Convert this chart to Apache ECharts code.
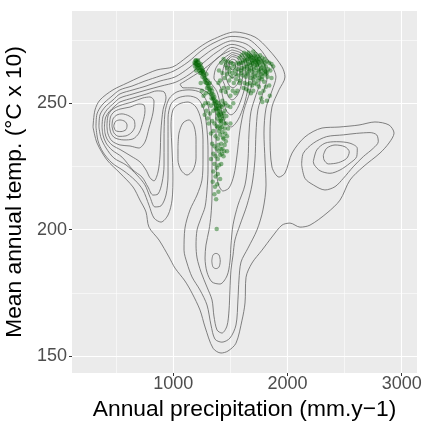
<!DOCTYPE html>
<html><head><meta charset="utf-8">
<script src="https://cdn.jsdelivr.net/npm/echarts@6/dist/echarts.min.js"></script>
<style>html,body{margin:0;padding:0;background:#fff}#c{width:424px;height:421px}</style>
</head><body><div id="c"></div>
<script>
const xTicks=[1000,2000,3000];
const xMinor=[500,1500,2500];
const yTicks=[150,200,250];
const yMinor=[175,225,275];

const contourOuter=[[297,240.6],[314,247.3],[358,251.3],[472,255.3],[595,258.0],[708,260.4],[857,263.2],[997,264.4],[1120,268.3],[1234,272.3],[1339,275.1],[1540,278.2],[1715,276.2],[1838,271.1],[1952,264.4],[1978,260.4],[1926,255.3],[1864,248.5],[1847,238.2],[1864,224.8],[1926,220.8],[1978,222.4],[2040,230.3],[2153,236.7],[2302,240.2],[2451,240.6],[2626,241.4],[2766,242.6],[2889,241.4],[2933,238.2],[2889,234.3],[2810,230.3],[2661,224.8],[2547,219.6],[2460,211.7],[2346,206.6],[2197,201.8],[2110,201.0],[2022,202.6],[1952,201.8],[1864,197.1],[1777,191.9],[1689,186.8],[1637,181.2],[1628,171.0],[1602,164.2],[1549,155.1],[1479,152.0],[1418,151.2],[1348,153.1],[1278,161.5],[1234,168.2],[1164,174.9],[1102,179.7],[1015,184.8],[962,189.2],[875,195.9],[787,201.0],[761,207.0],[708,211.7],[647,216.9],[533,222.4],[419,227.6],[332,234.3],[297,240.6]];
const contour2=[[323,240.6],[332,245.8],[376,249.3],[454,252.5],[533,255.3],[638,256.8],[752,258.8],[884,260.8],[1006,262.8],[1129,266.3],[1243,270.7],[1356,273.9],[1514,276.45],[1654,275.45],[1759,271.5],[1829,267.1],[1873,264.0],[1899,260.4],[1864,254.9],[1812,248.1],[1794,238.2],[1803,227.6],[1812,217.7],[1785,207.8],[1733,199.9],[1654,192.7],[1593,187.2],[1575,180.1],[1566,172.2],[1549,162.3],[1496,157.1],[1426,155.5],[1365,156.7],[1330,162.3],[1295,170.2],[1234,176.1],[1164,181.3],[1120,186.8],[1094,191.9],[1102,200.6],[1146,207.8],[1208,213.7],[1251,219.6],[1260,227.6],[1260,235.5],[1243,243.4],[1199,248.5],[1129,250.5],[1050,249.7],[997,247.4],[980,241.4],[989,231.5],[997,221.6],[989,211.7],[954,205.8],[892,203.0],[831,204.6],[787,209.7],[734,215.7],[664,219.6],[568,223.2],[463,226.4],[384,230.7],[341,235.1],[323,240.6]];
const contour3=[[349,240.6],[358,245.4],[402,248.5],[472,251.3],[533,253.7],[647,255.3],[761,256.8],[884,258.8],[1015,260.4],[1137,264.0],[1251,268.3],[1365,271.9],[1514,274.7],[1636,273.5],[1724,270.3],[1777,267.1],[1812,263.6],[1820,259.6],[1785,254.1],[1741,247.4],[1724,238.2],[1715,227.6],[1689,217.7],[1645,209.7],[1584,201.9],[1540,195.9],[1523,189.9],[1505,184.0],[1496,176.1],[1488,168.2],[1470,161.9],[1426,159.1],[1383,160.3],[1356,165.8],[1339,172.2],[1295,177.3],[1243,183.2],[1208,188.8],[1199,193.9],[1208,199.9],[1243,204.6],[1278,209.0],[1295,215.7],[1304,223.6],[1304,231.5],[1295,239.4],[1269,247.4],[1216,251.7],[1129,252.9],[1041,252.1],[980,249.7],[954,244.2],[954,233.5],[954,221.6],[936,213.7],[892,209.4],[839,209.0],[796,212.9],[752,217.7],[682,221.6],[586,225.6],[481,228.3],[411,232.3],[367,236.3],[349,240.6]];
const contour4=[[376,240.6],[384,244.6],[419,247.4],[481,250.1],[533,252.1],[647,253.7],[769,255.3],[892,256.8],[1024,258.4],[1146,261.6],[1260,265.9],[1383,270.3],[1514,273.3],[1619,271.9],[1689,269.1],[1733,266.3],[1759,262.4],[1759,258.4],[1724,253.3],[1680,246.6],[1663,238.2],[1654,227.6],[1628,217.7],[1566,209.7],[1523,201.9],[1505,193.9],[1496,187.2],[1470,181.7],[1409,178.5],[1339,179.3],[1295,183.2],[1278,188.8],[1286,193.9],[1313,199.9],[1330,205.8],[1339,213.7],[1339,223.6],[1339,231.5],[1330,240.2],[1304,249.3],[1243,254.1],[1137,255.3],[1032,254.5],[962,251.7],[927,246.2],[919,235.5],[919,225.6],[901,218.5],[866,214.1],[822,213.7],[778,216.9],[726,220.8],[647,223.6],[551,228.7],[463,231.5],[411,234.3],[384,237.5],[376,240.6]];
const contour5Left=[[397,240.6],[406,244.2],[437,246.6],[489,248.9],[533,250.5],[647,252.1],[769,253.7],[857,254.9],[919,254.5],[936,252.1],[910,247.4],[892,239.4],[884,229.5],[866,222.8],[831,219.3],[796,220.5],[761,223.6],[708,226.8],[630,229.1],[542,231.5],[463,233.5],[419,235.9],[402,238.2],[397,240.6]];
const contour5Top=[[1059,257.6],[1146,260.0],[1269,263.6],[1400,268.3],[1514,272.1],[1601,270.7],[1654,268.3],[1689,265.2],[1698,260.4],[1671,254.5],[1619,247.4],[1584,239.4],[1558,229.5],[1531,221.6],[1488,216.5],[1435,215.3],[1391,218.5],[1374,227.6],[1374,239.4],[1365,248.1],[1330,252.9],[1260,255.3],[1164,256.1],[1085,256.1],[1059,257.6]];
const contour6Top=[[1514,271.1],[1593,269.9],[1636,267.1],[1663,262.4],[1654,256.1],[1619,249.3],[1566,243.4],[1505,240.6],[1453,242.6],[1418,248.1],[1383,254.5],[1321,258.4],[1278,260.8],[1321,264.8],[1409,268.7],[1514,271.1]];
const contour7Top=[[1514,270.1],[1584,269.1],[1619,266.7],[1636,262.4],[1628,256.8],[1593,251.3],[1549,247.0],[1505,245.4],[1461,247.4],[1435,252.1],[1409,256.8],[1356,260.0],[1374,264.0],[1435,267.5],[1514,270.1]];
const contour8Top=[[1514,269.3],[1575,268.3],[1601,265.9],[1610,262.0],[1593,256.8],[1558,252.9],[1514,251.3],[1479,252.9],[1453,256.8],[1426,260.4],[1444,264.8],[1470,267.5],[1514,269.3]];
const contour9Top=[[1514,268.5],[1558,267.9],[1584,265.6],[1584,261.6],[1566,258.0],[1523,256.1],[1488,257.2],[1461,260.8],[1461,264.4],[1479,267.1],[1514,268.5]];
const contour10Top=[[1514,267.5],[1549,266.9],[1566,264.8],[1558,262.0],[1523,260.0],[1488,261.2],[1479,264.0],[1488,266.3],[1514,267.5]];
const contour11Top=[[1514,266.5],[1540,265.9],[1545,264.4],[1523,263.2],[1496,264.0],[1492,265.6],[1514,266.5]];
const contour6Left=[[419,241.0],[428,245.0],[463,247.4],[533,249.1],[638,250.5],[734,252.1],[796,252.5],[831,250.9],[822,246.2],[787,240.2],[752,234.7],[699,232.3],[621,233.1],[533,233.5],[463,235.1],[428,237.9],[419,241.0]];
const contour7Left=[[441,241.0],[450,244.6],[481,246.6],[533,247.7],[621,248.5],[699,249.7],[743,249.3],[752,247.0],[734,242.6],[699,238.2],[647,235.9],[568,235.5],[489,236.3],[454,238.2],[441,241.0]];
const contour8Left=[[463,241.0],[472,243.8],[507,245.4],[551,245.8],[612,245.0],[656,243.4],[664,241.0],[638,238.6],[586,237.1],[524,236.9],[481,238.2],[463,241.0]];
const contour9Left=[[478,241.0],[494,242.8],[533,243.4],[577,242.8],[595,241.4],[586,239.6],[542,238.8],[494,239.2],[478,241.0]];
const contourMidPeak=[[1041,232.7],[1050,238.2],[1085,242.2],[1137,243.4],[1181,241.0],[1199,235.5],[1199,228.3],[1173,223.6],[1120,221.6],[1067,223.6],[1041,227.6],[1041,232.7]];
const contourLowPeak=[[1337,187.6],[1348,190.0],[1374,190.6],[1400,190.0],[1411,187.6],[1400,185.2],[1374,184.6],[1348,185.2],[1337,187.6]];
const contourRight2=[[2124,225.6],[2138,230.2],[2226,234.2],[2343,236.8],[2489,237.5],[2606,238.1],[2723,238.4],[2781,237.5],[2795,234.8],[2751,232.2],[2664,228.9],[2576,224.9],[2489,220.3],[2416,217.0],[2328,215.7],[2226,217.7],[2153,220.3],[2124,225.6]];
const contourRight3=[[2226,226.9],[2256,231.5],[2328,234.2],[2431,234.8],[2547,234.2],[2611,232.2],[2606,228.9],[2547,226.3],[2460,223.6],[2372,222.3],[2285,223.3],[2235,225.6],[2226,226.9]];
const contourRight4=[[2314,229.5],[2343,232.2],[2416,233.5],[2503,232.8],[2541,230.8],[2518,228.2],[2445,226.5],[2357,226.0],[2320,227.6],[2314,229.5]];

const greenPoints=[
[1185,266],[1195,267],[1200,265.5],[1210,266.5],[1205,264.5],[1220,265],[1215,267],[1230,264],[1190,264.5],[1240,265.5],[1225,263],[1250,264],[1235,262],[1200,263],[1260,262.5],
[1245,262],[1260,263],[1270,261],[1255,260.5],[1280,260],[1290,261.5],[1275,258.5],[1300,259],[1310,257.5],[1295,256],[1320,258],[1330,256],[1315,254.5],[1340,255],[1350,253.5],[1335,252],[1360,252.5],[1370,251],[1355,250],[1380,250.5],[1390,249],[1375,247.5],[1400,248],[1410,246.5],[1395,245.5],[1420,246],[1385,244],[1405,243],[1415,241.5],[1390,240.5],
[1240,258],[1250,255],[1265,253],[1280,250],[1260,249],[1290,247],[1300,244],[1275,245.5],[1310,242],[1320,246],[1305,250],[1285,254],
[1420,266],[1440,267.5],[1460,265],[1480,266.5],[1500,264],[1520,265.5],[1540,263],[1560,266],[1430,262],[1450,260],[1470,261.5],[1490,259],[1510,260.5],[1530,258],[1550,259.5],[1570,261],[1440,256],[1460,254.5],[1480,256],[1500,253],[1520,255],[1545,254],[1430,251],[1455,250],[1475,249],[1500,248.5],[1440,246],[1465,245],[1420,255],[1410,259],[1400,263],[1395,258],[1580,258],[1560,255],[1525,250],
[1580,268],[1600,269],[1620,270],[1640,269.5],[1660,270],[1680,269],[1700,270.5],[1720,269.5],[1740,268.5],[1760,269],[1780,268],[1800,267.5],[1820,266.5],[1840,266],[1860,265.5],[1875,264.5],
[1590,266],[1610,267],[1630,266.5],[1650,267.5],[1670,266],[1690,267],[1710,266.5],[1730,267],[1750,266],[1770,266.5],[1790,265],[1810,264.5],[1830,263.5],[1850,263],
[1600,264],[1620,263.5],[1645,264.5],[1665,263],[1685,264],[1705,263.5],[1725,264],[1745,263],[1765,263.5],[1785,262],[1805,261.5],[1825,260.5],
[1610,261],[1635,260.5],[1655,261.5],[1675,260],[1695,261],[1715,260.5],[1735,261],[1755,260],[1775,259.5],[1795,258.5],
[1625,258],[1650,257.5],[1670,258],[1690,257],[1710,258],[1730,257.5],[1750,256.5],[1700,255],[1680,254],[1660,255],[1640,255.5],
[1595,262],[1585,259],[1615,256],
[1655,265.5],[1675,265],[1695,265.5],[1715,265],[1735,265.5],[1745,267.5],[1725,268],[1705,268],[1685,268],[1665,268.5],
[1760,254],[1790,255],[1820,251],[1780,250.5],[1840,257],[1810,256.5],[1770,252],[1860,260],[1845,253],
[1330,249],[1350,247],[1370,248],[1390,246],[1420,243],[1440,244],[1460,242],[1480,240],[1500,242],[1340,243],[1360,242],[1380,241],[1400,239],[1430,238.5],[1450,240],[1470,237],[1350,239],[1370,237],[1390,236],[1410,237.5],[1440,236],[1460,235],[1330,238],[1420,234],
[1340,234],[1360,233],[1380,232],[1400,231],[1430,232],[1450,233.5],[1470,231],[1350,230],[1370,229],[1390,228],[1410,229.5],[1440,229],[1330,228],[1360,226],[1380,224.5],[1400,225.5],[1420,226],[1350,223],[1370,221],[1390,222],[1410,220],[1345,219],[1365,217],[1385,218],[1360,214],[1375,212],[1395,215],
[1380,200.3],
[1192,265.8],[1198,266.8],[1207,265.2],[1213,264],[1222,266],[1228,265],[1236,263.2],[1244,264.2],[1252,262.8],[1258,261.5],[1266,262.2],[1272,259.8],[1283,259.2],[1288,258],[1297,257.8],[1305,256.8],[1312,255.8],[1322,255.2],[1328,253.5],[1338,253.8],[1345,251.8],[1352,252],[1362,250.8],[1368,249.5],[1378,249],[1386,247.8],[1396,247],[1402,245.2],[1412,244.5],[1418,243.2],
[1398,250],[1412,249],[1425,248.5],[1438,249.5],[1450,247],[1428,245],[1445,242],[1410,240],[1425,240.5],[1435,236.5],[1455,238],[1415,232],[1395,233.5],[1425,230],[1445,231],
[1628,268],[1642,267],[1652,269],[1668,267.5],[1678,268.5],[1692,266],[1702,267],[1712,268.8],[1722,266.5],[1732,265],[1742,266.5],[1752,267.5],[1762,265],[1772,264],[1782,266.5],[1792,263.5],[1802,266],[1812,262.5],[1660,263.5],[1690,262.5],[1720,262],[1750,262.5],[1780,260.5],[1640,262],[1700,259.5],[1740,259],[1770,261.5],[1630,264.5],[1800,263],[1820,262],
[1455,266.5],[1470,264],[1490,262.5],[1505,266],[1515,262],[1535,264.5],[1548,261.5],[1565,263.5],[1575,265.5],[1590,263],[1605,266]
];

const contours=[contourOuter,contour2,contour3,contour4,contour5Left,contour5Top,contour6Top,contour7Top,contour8Top,contour9Top,contour10Top,contour11Top,
  contour6Left,contour7Left,contour8Left,contour9Left,contourMidPeak,contourLowPeak,contourRight2,contourRight3,contourRight4];

const font='"Liberation Sans", Arial, sans-serif';
const gridLines=[]
  .concat(xMinor.map(v=>({xAxis:v,lineStyle:{width:0.55}})))
  .concat(xTicks.map(v=>({xAxis:v,lineStyle:{width:1.1}})))
  .concat(yMinor.map(v=>({yAxis:v,lineStyle:{width:0.55}})))
  .concat(yTicks.map(v=>({yAxis:v,lineStyle:{width:1.1}})));

const series=[{
  type:'line',data:[],z:1,silent:true,
  markLine:{silent:true,symbol:'none',z:1,animation:false,label:{show:false},
    lineStyle:{color:'#ffffff',type:'solid'},emphasis:{disabled:true},data:gridLines}
}];
contours.forEach(c=>series.push({type:'line',data:c,showSymbol:false,symbol:'none',smooth:0.3,z:2,silent:true,
  lineStyle:{color:'#6a6a6a',width:0.85}}));
series.push({type:'scatter',data:greenPoints,symbolSize:4.5,z:3,silent:true,itemStyle:{color:'rgba(0,100,0,0.55)'}});

const chart=echarts.init(document.getElementById('c'),null,{renderer:'canvas'});
chart.setOption({
  animation:false,
  grid:{left:72,right:7,top:11,bottom:48,show:true,backgroundColor:'#EBEBEB',borderWidth:0,outerBoundsMode:'none',containLabel:false},
  xAxis:{type:'value',min:113,max:3134,
    name:'Annual precipitation (mm.y\u22121)',nameLocation:'middle',nameGap:21,
    nameTextStyle:{fontSize:22.8,color:'#000',fontFamily:font,verticalAlign:'top'},
    axisLine:{show:false},
    axisTick:{show:true,length:3,customValues:xTicks,lineStyle:{color:'#333333',width:1}},
    axisLabel:{customValues:xTicks,formatter:v=>String(v),color:'#4D4D4D',fontSize:18,margin:2,fontFamily:font},
    splitLine:{show:false}},
  yAxis:{type:'value',min:143.3,max:286.5,
    name:'Mean annual temp. (\u00B0C x 10)',nameLocation:'middle',nameGap:31,
    nameTextStyle:{fontSize:22.8,color:'#000',fontFamily:font},
    axisLine:{show:false},
    axisTick:{show:true,length:3,customValues:yTicks,lineStyle:{color:'#333333',width:1}},
    axisLabel:{customValues:yTicks,formatter:v=>String(v),color:'#4D4D4D',fontSize:18,margin:5,fontFamily:font},
    splitLine:{show:false}},
  series:series
});
</script></body></html>
